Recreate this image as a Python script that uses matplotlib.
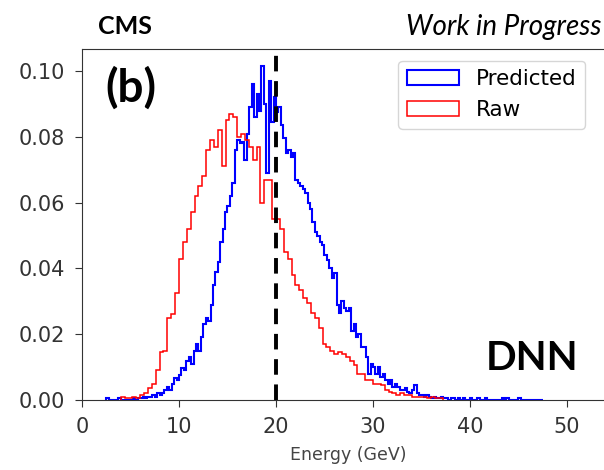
import numpy as np
import matplotlib.pyplot as plt

# blue: 0.25 GeV bins from 2.5 GeV
pred_start, pred_width = 2.5, 0.25
predicted = [
    0.0005, 0, 0, 0, 0, 0.0005, 0, 0, 0, 0,
    0, 0.0005, 0, 0.0005, 0.0005, 0.001, 0.0005, 0.001, 0.001, 0.0015,
    0.001, 0.002, 0.0015, 0.002, 0.003, 0.004, 0.003, 0.005, 0.0066, 0.006,
    0.0076, 0.0097, 0.009, 0.012, 0.013, 0.011, 0.015, 0.017, 0.015, 0.019,
    0.023, 0.025, 0.024, 0.029, 0.035, 0.039, 0.042, 0.048, 0.052, 0.057,
    0.059, 0.062, 0.066, 0.076, 0.079, 0.078, 0.0785, 0.073, 0.081, 0.089,
    0.096, 0.086, 0.093, 0.088, 0.1016, 0.090, 0.069, 0.097, 0.0845, 0.092,
    0.0875, 0.089, 0.0835, 0.0795, 0.075, 0.076, 0.074, 0.075, 0.067, 0.066,
    0.065, 0.064, 0.063, 0.060, 0.058, 0.054, 0.051, 0.050, 0.048, 0.047,
    0.044, 0.0425, 0.040, 0.037, 0.0385, 0.029, 0.0264, 0.030, 0.028, 0.027,
    0.028, 0.021, 0.023, 0.019, 0.020, 0.016, 0.016, 0.013, 0.008, 0.011,
    0.010, 0.008, 0.010, 0.007, 0.008, 0.006, 0.005, 0.006, 0.004, 0.005,
    0.004, 0.003, 0.003, 0.0035, 0.0025, 0.002, 0.003, 0.0045, 0.002, 0.0015,
    0.0015, 0.001, 0.0015, 0.001, 0.0005, 0.001, 0.0005, 0.0005, 0.001, 0.0005,
    0.0005, 0, 0.0005, 0.0005, 0, 0.0005, 0, 0.0005, 0, 0,
    0.0005, 0, 0, 0.0005, 0, 0, 0.0005, 0, 0, 0,
    0, 0, 0, 0.0005, 0, 0.0005, 0, 0, 0, 0,
    0.0005, 0, 0, 0, 0, 0, 0, 0, 0, 0,
]

# red: 0.4 GeV bins from 4.0 GeV
raw_start, raw_width = 4.0, 0.4
raw = [
    0.001, 0.0005, 0.0005, 0.001, 0.0005, 0.0015, 0.002, 0.0035, 0.005, 0.009,
    0.0146, 0.015, 0.025, 0.026, 0.0325, 0.043, 0.048, 0.052, 0.057, 0.062,
    0.065, 0.068, 0.076, 0.079, 0.077, 0.082, 0.071, 0.085, 0.087, 0.086,
    0.080, 0.081, 0.079, 0.077, 0.073, 0.077, 0.060, 0.067, 0.067, 0.055,
    0.055, 0.052, 0.045, 0.043, 0.038, 0.035, 0.0335, 0.031, 0.0295, 0.0265,
    0.025, 0.022, 0.017, 0.016, 0.015, 0.014, 0.0146, 0.014, 0.013, 0.012,
    0.0106, 0.008, 0.008, 0.006, 0.006, 0.005, 0.005, 0.0045, 0.003, 0.0025,
    0.002, 0.0015, 0.002, 0.0015, 0.0015, 0.001, 0.001, 0.001, 0.001, 0.0005,
    0.001, 0.0005, 0.0005,
]

def edges_of(start, width, n):
    return start + width * np.arange(n + 1)

fig = plt.figure(figsize=(6.04, 4.70), dpi=100)
ax = fig.add_axes([82/604, 70/470, 533.5/604, 351/470])

e_pred = edges_of(pred_start, pred_width, len(predicted))
e_raw = edges_of(raw_start, raw_width, len(raw))
ax.hist(e_pred[:-1] + pred_width/2, bins=e_pred, weights=predicted,
        histtype='step', color='blue', lw=1.5, label='Predicted')
ax.hist(e_raw[:-1] + raw_width/2, bins=e_raw, weights=raw,
        histtype='step', color='red', lw=1.1, label='Raw')
ax.axvline(20, color='black', ls=(0, (4, 2.5)), lw=2.8)

ax.set_xlim(0, 55)
ax.set_ylim(0, 0.1067)
ax.set_xticks([0, 10, 20, 30, 40, 50])
ax.set_yticks([0, 0.02, 0.04, 0.06, 0.08, 0.10])
ax.set_yticklabels(['0.00', '0.02', '0.04', '0.06', '0.08', '0.10'])
ax.tick_params(labelsize=15, colors='#333333', length=5, pad=7)
for s in ax.spines.values():
    s.set_color('#333333')
ax.set_xlabel('Energy (GeV)', fontsize=12.5, color='#444444', labelpad=7)

fig.legend(loc='upper right', bbox_to_anchor=(596/604, 1 - 50/470),
           fontsize=15.5, frameon=True, fancybox=True, handlelength=2.4,
           labelspacing=0.5)

fig.text(98/604, 1 - 27/470, 'CMS', fontsize=18, fontweight='bold',
         family='Lato', va='center')
fig.text(601/604, 1 - 27/470, 'Work in Progress', fontsize=20, style='italic',
         family='Lato', va='center', ha='right')
ax.text(0.043, 0.89, '(b)', transform=ax.transAxes, fontsize=33,
        fontweight='bold', family='Lato', va='center')
fig.text(578/604, 1 - 358/470, 'DNN', fontsize=29, fontweight='bold',
         family='Lato', va='center', ha='right')

plt.savefig('out.png', dpi=100)
